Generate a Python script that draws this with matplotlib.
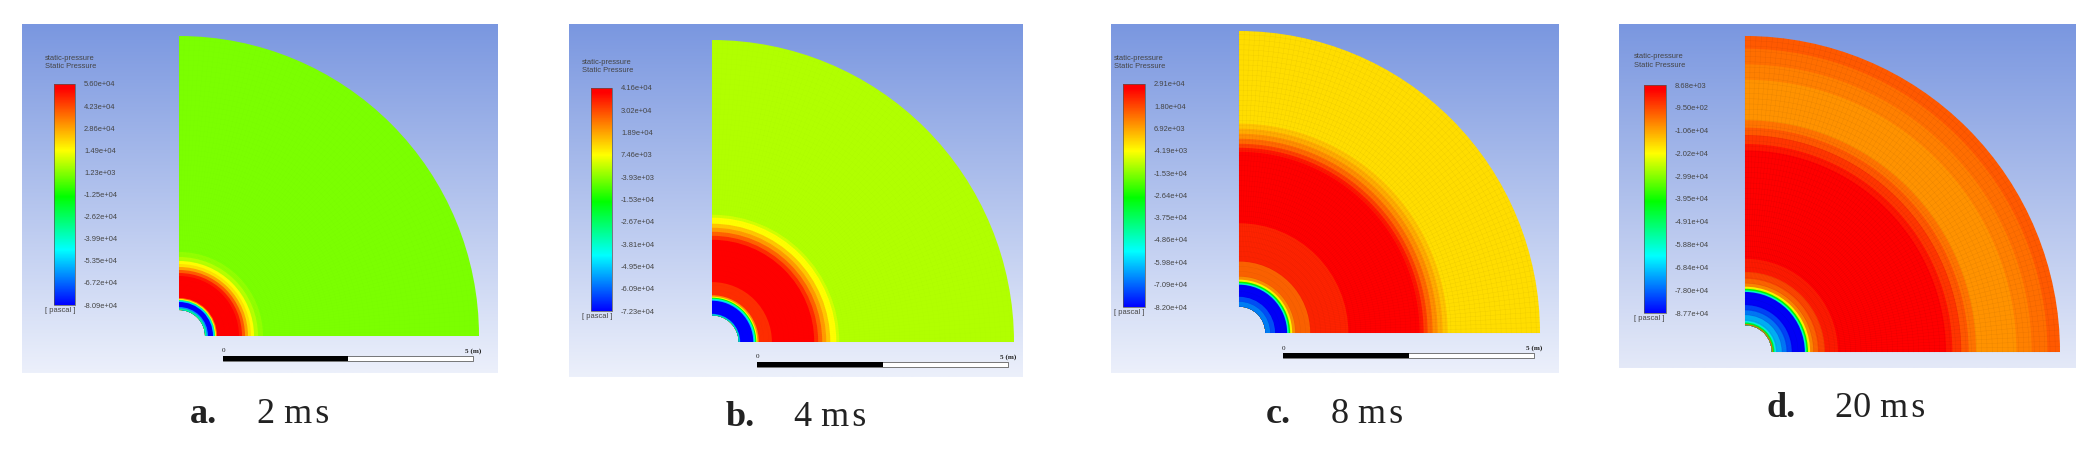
# Static pressure contours on a quarter domain at four times

import numpy as np
import matplotlib
matplotlib.use("Agg")
import matplotlib.pyplot as plt
from matplotlib.cm import ScalarMappable
from matplotlib.colors import LinearSegmentedColormap, Normalize
from matplotlib.patches import Rectangle, Wedge

W, H = 2098, 454

# legend ticks in pascal, top to bottom
ticks_a = [5.60e4, 4.23e4, 2.86e4, 1.49e4, 1.23e3, -1.25e4, -2.62e4, -3.99e4, -5.35e4, -6.72e4, -8.09e4]
ticks_b = [4.16e4, 3.02e4, 1.89e4, 7.46e3, -3.93e3, -1.53e4, -2.67e4, -3.81e4, -4.95e4, -6.09e4, -7.23e4]
ticks_c = [2.91e4, 1.80e4, 6.92e3, -4.19e3, -1.53e4, -2.64e4, -3.75e4, -4.86e4, -5.98e4, -7.09e4, -8.20e4]
ticks_d = [8.68e3, -9.50e2, -1.06e4, -2.02e4, -2.99e4, -3.95e4, -4.91e4, -5.88e4, -6.84e4, -7.80e4, -8.77e4]

# ring edges in metres and pressure of each ring in kPa
edges_a = [0.52, 0.55, 0.58, 0.68, 0.70, 0.72, 0.74, 0.76, 1.20, 1.26, 1.32, 1.38, 1.44, 1.50, 1.58, 1.68, 6.0]
kpa_a = [-33, -60.4, -80.9, -53.5, -33, 15, 35.5, 56, 49, 39.6, 28.6, 19, 15, 6.7, 2.6, 0]

edges_b = [0.53, 0.545, 0.56, 0.82, 0.84, 0.86, 0.88, 0.90, 0.93, 1.19, 2.03, 2.11, 2.19, 2.27, 2.35, 2.47, 2.53, 6.0]
kpa_b = [-32.4, -55, -72.3, -49.5, -38, -16.5, 7.4, 21, 33.5, 41.6, 33.6, 26.8, 20, 14.3, 7.4, 2.9, 0]

edges_c = [0.525, 0.62, 0.72, 0.96, 0.99, 1.02, 1.06, 1.12, 1.42, 2.18, 3.60, 3.68, 3.76, 3.86, 3.96, 4.06, 4.16, 6.0]
kpa_c = [-67.6, -73, -82, -48.7, -27.6, -4.2, 9, 14.7, 22.4, 28, 24, 19, 14, 9.5, 6, 3, 0]

edges_d = [0.51, 0.53, 0.56, 0.59, 0.70, 0.79, 0.89, 1.14, 1.17, 1.20, 1.24, 1.30, 1.39, 1.52, 1.77, 3.83, 3.95, 4.12,
           4.26, 4.40, 5.17, 5.46, 5.76, 6.0]
kpa_d = [-5.8, -44.3, -61.7, -70.3, -76, -81, -87.7, -58.8, -40.5, -20.2, -7.7, -4.0, -0.6, 3.9, 7.7, 4.5, 1, -2.5,
         -5.5, -8.7, -6.8, -5, -2.8]

letters = ["a.", "b.", "c.", "d."]
times = ["2 m\u200as", "4 m\u200as", "8 m\u200as", "20 m\u200as"]

# layout, all in pixels of the reference
bg_boxes = [(22, 24, 498, 373), (569, 24, 1023, 377), (1111, 24, 1559, 373), (1619, 24, 2076, 368)]
bg_bottoms = ["#ecf0fb", "#ecf0fb", "#ecf0fb", "#e4e9f8"]
quad_boxes = [(179, 36, 479, 336), (712, 40, 1014, 342), (1239, 31, 1540, 333), (1745, 36, 2060, 352)]
bar_boxes = [(54, 84, 75, 305), (591, 88, 612, 311), (1123, 84, 1145, 307), (1644, 85, 1666, 313)]
legend_x = [45, 582, 1114, 1634]
legend_y = [58, 62, 58, 57]
pascal_y = [310, 316, 312, 319]
scale_boxes = [(223, 356, 473, 361), (757, 362, 1008, 367), (1283, 353, 1534, 358), None]
letter_x = [190, 726, 1266, 1766]
time_x = [257, 794, 1331, 1835]
caption_y = [423, 426, 423, 417]
mesh_alpha = [0.012, 0.012, 0.05, 0.065]

rainbow = LinearSegmentedColormap.from_list(
    "fluent",
    [(0, "#0000ff"), (0.25, "#00ffff"), (0.49, "#00ff00"), (0.70, "#ffff00"), (0.98, "#ff0000"), (1, "#ff0000")],
    N=512,
)


def px_axes(fig, box):
    x0, y0, x1, y1 = box
    return fig.add_axes([x0 / W, 1 - y1 / H, (x1 - x0) / W, (y1 - y0) / H])


def draw_panel(fig, i, ticks, edges, kpa):
    bg = px_axes(fig, bg_boxes[i])
    fade = LinearSegmentedColormap.from_list("fade", ["#7a97e0", bg_bottoms[i]])
    bg.imshow(np.linspace(0, 1, 256)[:, None], cmap=fade, aspect="auto")
    bg.axis("off")

    norm = Normalize(ticks[-1], ticks[0])

    quad = px_axes(fig, quad_boxes[i])
    quad.set_xlim(0, 6)
    quad.set_ylim(0, 6)
    quad.axis("off")
    # outer rings first so the next one covers the seam
    for r, p in zip(edges[:0:-1], kpa[::-1]):
        quad.add_patch(Wedge((0, 0), r, 0, 90, width=r - edges[0], facecolor=rainbow(norm(p * 1000)),
                             edgecolor="none", clip_on=False))

    # faint mesh lines
    t = np.linspace(0, np.pi / 2, 91)
    for r in np.arange(edges[0], 6.0, 0.1):
        quad.plot(r * np.cos(t), r * np.sin(t), color="k", lw=0.35, alpha=mesh_alpha[i], clip_on=False)
    for a in t:
        quad.plot([edges[0] * np.cos(a), 6 * np.cos(a)], [edges[0] * np.sin(a), 6 * np.sin(a)],
                  color="k", lw=0.35, alpha=mesh_alpha[i], clip_on=False)

    cax = px_axes(fig, bar_boxes[i])
    cb = fig.colorbar(ScalarMappable(norm=norm, cmap=rainbow), cax=cax, ticks=ticks)
    cb.ax.set_yticklabels([f"{v:.2e}" for v in ticks], fontsize=5.4, color="#444444", family="Liberation Sans")
    cb.ax.tick_params(length=0, pad=6.5)
    cb.outline.set_edgecolor("#555555")
    cb.outline.set_linewidth(0.5)

    sans = dict(fontsize=5.4, color="#444444", family="Liberation Sans", va="center")
    fig.text(legend_x[i] / W, 1 - legend_y[i] / H, "static-pressure", **sans)
    fig.text(legend_x[i] / W, 1 - (legend_y[i] + 8.7) / H, "Static Pressure", **sans)
    fig.text(legend_x[i] / W, 1 - pascal_y[i] / H, "[ pascal ]", **sans)

    if scale_boxes[i] is not None:
        x0, y0, x1, y1 = scale_boxes[i]
        fig.add_artist(Rectangle((x0 / W, 1 - y1 / H), (x1 - x0) / W, (y1 - y0) / H, facecolor="white",
                                 edgecolor="#444444", lw=0.5, transform=fig.transFigure))
        fig.add_artist(Rectangle((x0 / W, 1 - y1 / H), (x1 - x0) / 2 / W, (y1 - y0) / H, facecolor="black",
                                 edgecolor="none", transform=fig.transFigure))
        small = dict(fontsize=5.2, color="#222222", family="Liberation Serif", va="center")
        fig.text(x0 / W, 1 - (y0 - 5) / H, "0", ha="center", **small)
        fig.text((x1 + 8) / W, 1 - (y0 - 5) / H, "5 (m)", ha="right", fontweight="bold", **small)

    base = 1 - caption_y[i] / H
    fig.text(letter_x[i] / W, base, letters[i], fontsize=26, fontweight="bold", family="Liberation Serif",
             color="#222222", va="baseline")
    fig.text(time_x[i] / W, base, times[i], fontsize=26, family="Liberation Serif", color="#222222", va="baseline")


fig = plt.figure(figsize=(W / 100, H / 100), dpi=100)
draw_panel(fig, 0, ticks_a, edges_a, kpa_a)
draw_panel(fig, 1, ticks_b, edges_b, kpa_b)
draw_panel(fig, 2, ticks_c, edges_c, kpa_c)
draw_panel(fig, 3, ticks_d, edges_d, kpa_d)
fig.savefig("out.png", dpi=100)
